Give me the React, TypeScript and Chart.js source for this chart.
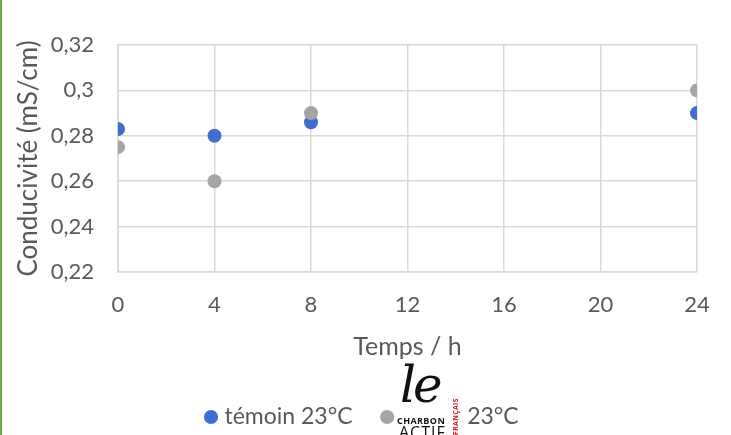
import React, { useEffect, useRef } from "react";
import { Chart, registerables } from "chart.js";

Chart.register(...registerables);

// ---- data ----
const seriesNames = ["témoin 23°C", "CAG1 23°C"];
const timesTemoin = [0, 4, 8, 24];
const valuesTemoin = [0.283, 0.28, 0.286, 0.29];
const timesCharbon = [0, 4, 8, 24];
const valuesCharbon = [0.275, 0.26, 0.29, 0.3];
const xTickValues = [0, 4, 8, 12, 16, 20, 24];
const xTickLabels = ["0", "4", "8", "12", "16", "20", "24"];
const yTickValues = [0.22, 0.24, 0.26, 0.28, 0.3, 0.32];
const yTickLabels = ["0,22", "0,24", "0,26", "0,28", "0,3", "0,32"];
const xTitle = "Temps / h";
const yTitle = "Conducivité (mS/cm)";

const FONT = "Lato, 'Open Sans', sans-serif";
const TEXT = "#595959";
const GRID = "#d9d9d9";

const LEGEND_PAD = 32.5;
const LEGEND_LEFT = 209 - LEGEND_PAD;
const LEGEND_TOP = 373;

const legendPlacer = {
  id: "legendPlacer",
  afterLayout(chart: any) {
    const lg = chart.legend;
    if (!lg) return;
    const h = lg.height;
    lg.left = LEGEND_LEFT;
    lg.top = LEGEND_TOP;
    lg.bottom = LEGEND_TOP + h;
  },
};

export default function App() {
  const ref = useRef<HTMLCanvasElement | null>(null);

  useEffect(() => {
    if (!ref.current) return;
    const chart = new Chart(ref.current, {
      type: "scatter",
      data: {
        datasets: [
          {
            label: seriesNames[0],
            data: timesTemoin.map((t, i) => ({ x: t, y: valuesTemoin[i] })),
            backgroundColor: "#3f6fce",
            borderColor: "#3f6fce",
            borderWidth: 0,
            pointRadius: 7,
            pointHoverRadius: 7,
            order: 2,
          },
          {
            label: seriesNames[1],
            data: timesCharbon.map((t, i) => ({ x: t, y: valuesCharbon[i] })),
            backgroundColor: "#a5a5a5",
            borderColor: "#a5a5a5",
            borderWidth: 0,
            pointRadius: 7,
            pointHoverRadius: 7,
            order: 1,
          },
        ],
      },
      options: {
        animation: false,
        responsive: false,
        maintainAspectRatio: false,
        layout: { padding: { top: 45, right: 34, left: 0, bottom: 7.5 } },
        plugins: {
          legend: {
            position: "bottom",
            align: "start",
            labels: {
              usePointStyle: true,
              pointStyle: "circle",
              boxWidth: 4,
              boxHeight: 10,
              padding: LEGEND_PAD,
              color: TEXT,
              font: { family: FONT, size: 23 },
              sort: (a: any, b: any) => a.datasetIndex - b.datasetIndex,
            },
          },
          tooltip: { enabled: false },
          title: { display: false },
        },
        scales: {
          x: {
            type: "linear",
            min: 0,
            max: 24,
            afterBuildTicks: (s: any) => {
              s.ticks = xTickValues.map((v) => ({ value: v }));
            },
            afterFit: (s: any) => {
              s.height = 90;
            },
            ticks: {
              callback: (_v: any, i: number) => xTickLabels[i],
              color: TEXT,
              font: { family: FONT, size: 22 },
              padding: 20,
              maxRotation: 0,
            },
            grid: { color: GRID, lineWidth: 1.5, drawTicks: false },
            border: { display: true, color: GRID, width: 1.5 },
            title: {
              display: true,
              text: xTitle,
              color: TEXT,
              font: { family: FONT, size: 25 },
              padding: { top: 0, bottom: 0 },
            },
          },
          y: {
            type: "linear",
            min: 0.22,
            max: 0.32,
            afterBuildTicks: (s: any) => {
              s.ticks = yTickValues.map((v) => ({ value: v }));
            },
            afterFit: (s: any) => {
              s.width = 118;
            },
            ticks: {
              callback: (_v: any, i: number) => yTickLabels[i],
              color: TEXT,
              font: { family: FONT, size: 22 },
              padding: 24,
            },
            grid: { color: GRID, lineWidth: 1.5, drawTicks: false },
            border: { display: true, color: GRID, width: 1.5 },
            title: {
              display: true,
              text: yTitle,
              color: TEXT,
              font: { family: FONT, size: 26 },
              padding: { top: 13, bottom: 0 },
            },
          },
        },
      },
      plugins: [legendPlacer],
    });
    return () => chart.destroy();
  }, []);

  return (
    <div
      style={{
        position: "absolute",
        left: 0,
        top: 0,
        width: 731,
        height: 435,
        background: "#fff",
        overflow: "hidden",
      }}
    >
      <canvas ref={ref} width={731} height={435} style={{ display: "block" }} />
      <div
        style={{
          position: "absolute",
          left: 0,
          top: 0,
          width: 2,
          height: 435,
          background: "#6aab3c",
        }}
      />
      {/* logo overlay */}
      <div
        style={{
          position: "absolute",
          left: 396,
          top: 362,
          width: 65,
          height: 73,
          background: "#fff",
        }}
      >
        <div
          style={{
            position: "absolute",
            left: 4,
            top: -5,
            fontFamily: "'DejaVu Serif', serif",
            fontStyle: "italic",
            fontSize: 50,
            color: "#111",
            lineHeight: "56px",
            letterSpacing: -3,
          }}
        >
          le
        </div>
        <div
          style={{
            position: "absolute",
            left: 1,
            top: 54,
            fontFamily: "'Open Sans', sans-serif",
            fontWeight: 700,
            fontSize: 9,
            color: "#111",
            lineHeight: "10px",
            letterSpacing: 0.4,
          }}
        >
          CHARBON
        </div>
        <div
          style={{
            position: "absolute",
            left: 3,
            top: 62,
            fontFamily: "'Open Sans', sans-serif",
            fontSize: 16,
            color: "#111",
            lineHeight: "16px",
            letterSpacing: 1,
          }}
        >
          ACTIF
        </div>
        <div
          style={{
            position: "absolute",
            left: 56,
            top: 73,
            transform: "rotate(-90deg)",
            transformOrigin: "0 0",
            fontFamily: "'Open Sans', sans-serif",
            fontWeight: 700,
            fontSize: 7,
            color: "#d3202c",
            lineHeight: "8px",
            whiteSpace: "nowrap",
            letterSpacing: 0.3,
          }}
        >
          FRANÇAIS
        </div>
      </div>
    </div>
  );
}
